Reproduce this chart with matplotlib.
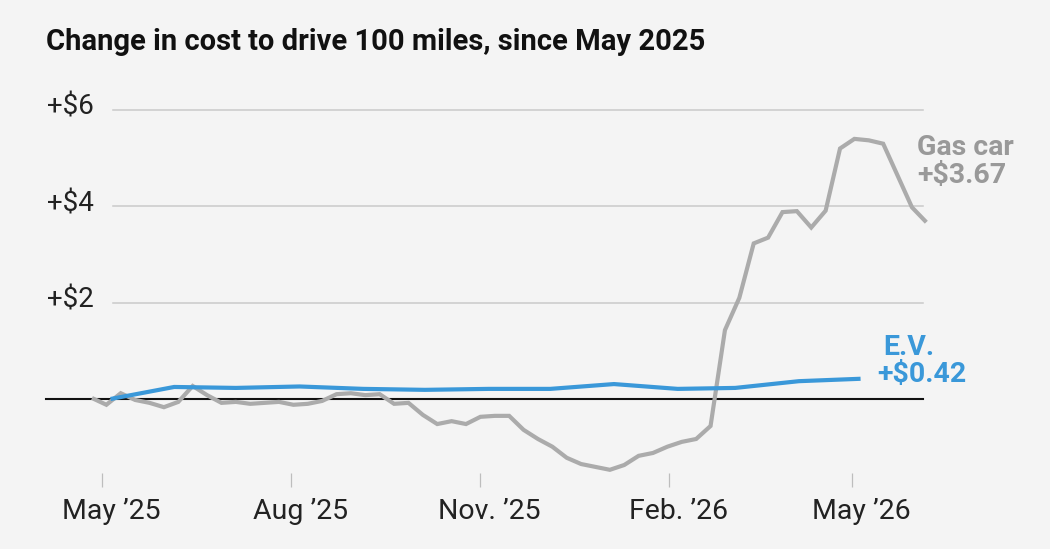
import matplotlib
matplotlib.use("Agg")
import matplotlib.pyplot as plt
import matplotlib.dates as mdates
import matplotlib.font_manager as fm
from matplotlib.transforms import ScaledTranslation, blended_transform_factory
import pandas as pd

# ---------------- data ----------------
title = "Change in cost to drive 100 miles, since May 2025"

gas_dates = pd.date_range("2025-04-26", periods=59, freq="7D")
gas_change = [
    0.02, -0.12, 0.12, -0.02, -0.08, -0.17, -0.06, 0.27, 0.08, -0.08,
    -0.06, -0.10, -0.08, -0.06, -0.12, -0.10, -0.04, 0.10, 0.12, 0.08,
    0.10, -0.10, -0.08, -0.33, -0.52, -0.46, -0.52, -0.37, -0.35, -0.35,
    -0.64, -0.83, -0.99, -1.22, -1.35, -1.41, -1.47, -1.37, -1.18, -1.12,
    -0.99, -0.89, -0.83, -0.56, 1.43, 2.10, 3.23, 3.35, 3.88, 3.90,
    3.56, 3.91, 5.20, 5.40, 5.37, 5.30, 4.64, 3.98, 3.67,
]

ev_dates = pd.date_range("2025-05-01", periods=13, freq="MS") + pd.Timedelta(days=4)
ev_change = [0.00, 0.25, 0.23, 0.26, 0.21, 0.19, 0.21, 0.21, 0.31, 0.21, 0.23, 0.37, 0.42]

tick_dates = pd.to_datetime(["2025-05-01", "2025-08-01", "2025-11-01", "2026-02-01", "2026-05-01"])
tick_labels = ["May \u201925", "Aug \u201925", "Nov. \u201925", "Feb. \u201926", "May \u201926"]
y_ticks = [2, 4, 6]

# ---------------- style ----------------
BG = "#f4f4f4"
GAS_LINE = "#ababab"
GAS_TEXT = "#999999"
EV_BLUE = "#3a98d9"

names = {f.name for f in fm.fontManager.ttflist}
FONT = "DejaVu Sans"
for cand in ["Roboto", "Liberation Sans"]:
    if cand in names:
        FONT = cand
        break
plt.rcParams["font.family"] = [FONT, "DejaVu Sans"]

W, H, DPI = 1050, 549, 100
fig = plt.figure(figsize=(W / DPI, H / DPI), dpi=DPI, facecolor=BG)

PX_DAY = 2.055
X0_PX = 92
SPINE_PX = 487
ZERO_PX = 399
PX_PER_DOLLAR = 48.17

ax = fig.add_axes([0, (H - SPINE_PX) / H, 1, SPINE_PX / H])
ax.set_facecolor(BG)
x0 = mdates.date2num(gas_dates[0])
left = x0 - X0_PX / PX_DAY
ax.set_xlim(left, left + W / PX_DAY)
ax.set_ylim(-(SPINE_PX - ZERO_PX) / PX_PER_DOLLAR, ZERO_PX / PX_PER_DOLLAR)

for s in ax.spines.values():
    s.set_visible(False)

# gridlines
for v in y_ticks:
    ax.axhline(v, xmin=113 / W, xmax=923 / W, color="#c9c9c9", lw=1.1, zorder=1)
ax.axhline(0, xmin=46 / W, xmax=923 / W, color="#111111", lw=1.5, zorder=2)

# y labels
ytrans = blended_transform_factory(ax.transAxes, ax.transData) + ScaledTranslation(0, -5 / DPI, fig.dpi_scale_trans)
for v in y_ticks:
    ax.text(47 / W, v, f"+${v}", transform=ytrans, ha="left", va="baseline",
            fontsize=20, color="#222222")

# data lines
ax.plot(mdates.date2num(gas_dates), gas_change, color=GAS_LINE, lw=3.0, zorder=3,
        solid_joinstyle="miter", solid_capstyle="butt")
ax.plot(mdates.date2num(ev_dates), ev_change, color=EV_BLUE, lw=3.0, zorder=4,
        solid_capstyle="butt")

# x ticks
ax.set_yticks([])
ax.set_xticks(mdates.date2num(tick_dates))
ax.set_xticklabels(tick_labels)
ax.tick_params(axis="x", direction="in", length=10, width=0.9, color="#bdbdbd",
               pad=8, labelsize=20.5, labelcolor="#222222")
for lbl in ax.get_xticklabels():
    lbl.set_transform(lbl.get_transform() + ScaledTranslation(9 / DPI, 0, fig.dpi_scale_trans))

# title
fig.text(46 / W, 1 - 50 / H, title, ha="left", va="baseline", fontsize=21,
         fontweight="bold", color="#111111")

# end labels
fig.text(917 / W, 1 - 155 / H, "Gas car", ha="left", va="baseline", fontsize=20.5,
         fontweight="bold", color=GAS_TEXT)
fig.text(917 / W, 1 - 183 / H, f"+${gas_change[-1]:.2f}", ha="left", va="baseline",
         fontsize=20.5, fontweight="bold", color=GAS_TEXT)
fig.text(883 / W, 1 - 355 / H, "E.V.", ha="left", va="baseline", fontsize=20.5,
         fontweight="bold", color=EV_BLUE)
fig.text(877 / W, 1 - 382 / H, f"+${ev_change[-1]:.2f}", ha="left", va="baseline",
         fontsize=20.5, fontweight="bold", color=EV_BLUE)

fig.savefig("out.png", dpi=DPI, facecolor=BG)
